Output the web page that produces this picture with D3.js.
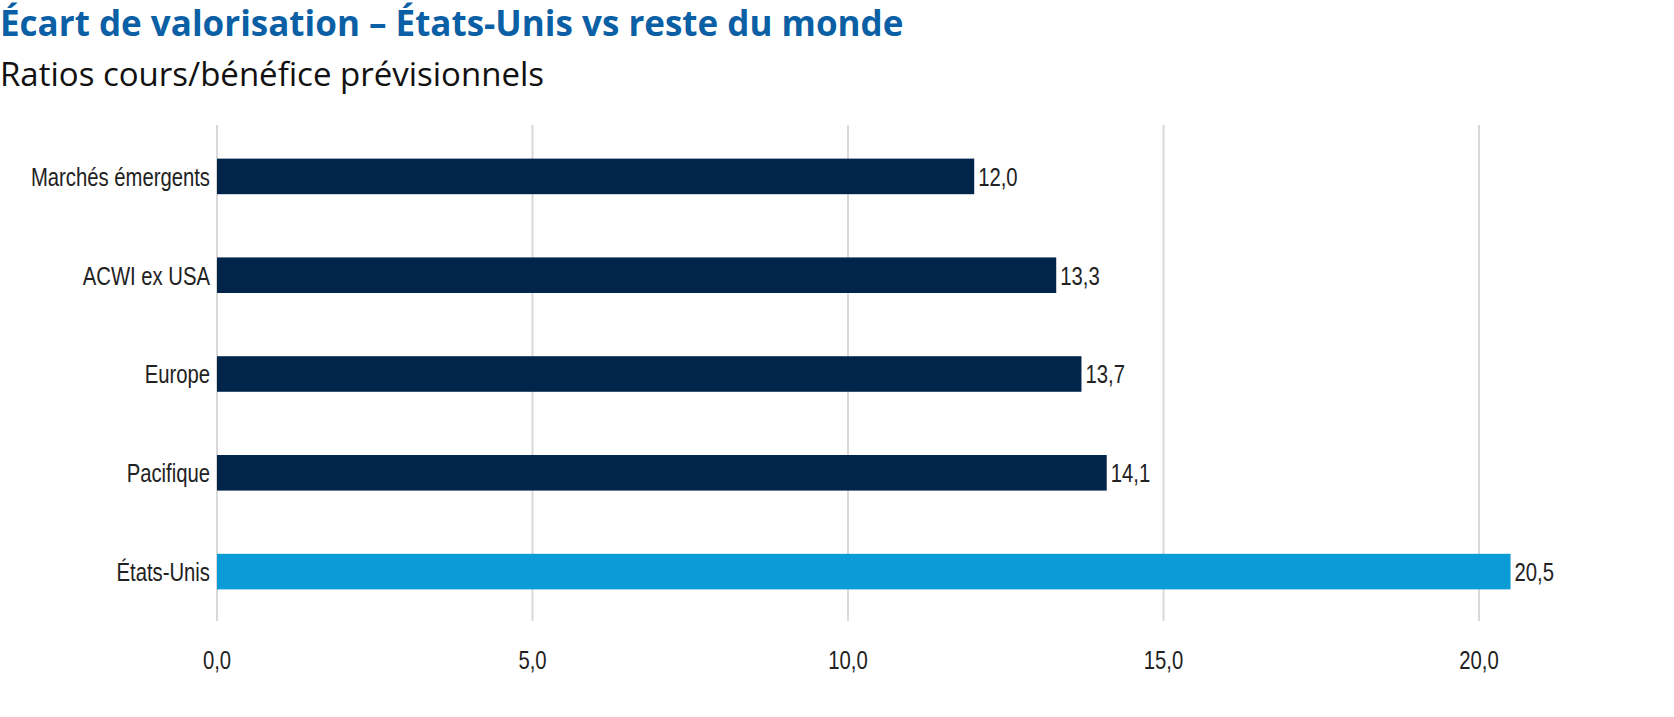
<!DOCTYPE html>
<html><head><meta charset="utf-8">
<script src="https://cdn.jsdelivr.net/npm/d3@7"></script>
<style>body{margin:0;background:#fff}</style>
</head><body>
<svg id="chart" width="1674" height="717"></svg>
<script>
var categories = ["Marchés émergents", "ACWI ex USA", "Europe", "Pacifique", "États-Unis"];
var values = [12.0, 13.3, 13.7, 14.1, 20.5];
var barColors = ["#00244a", "#00244a", "#00244a", "#00244a", "#0b9cd8"];
var ticks = [0, 5, 10, 15, 20];

var svg = d3.select("#chart");
var narrow = "'Liberation Sans', 'Roboto', sans-serif";
var fmt = function(v) { return d3.format(".1f")(v).replace(".", ","); };

// condensed look: squeeze text horizontally
function squeezed(g, px, py, anchor, txt) {
    g.append("text")
        .attr("transform", "translate(" + px + "," + py + ") scale(0.78,1)")
        .attr("dy", "0.36em").attr("text-anchor", anchor)
        .style("font", "26px " + narrow).attr("fill", "#222")
        .text(txt);
}

svg.append("text").attr("x", 0).attr("y", 36)
    .style("font", "bold 35px 'Open Sans', sans-serif").attr("fill", "#0b5fa5")
    .text("Écart de valorisation – États-Unis vs reste du monde");
svg.append("text").attr("x", 0).attr("y", 86)
    .style("font", "33px 'Open Sans', sans-serif").attr("fill", "#111")
    .text("Ratios cours/bénéfice prévisionnels");

var x = d3.scaleLinear().domain([0, 20]).range([217, 1479]);
var y = d3.scaleBand().domain(categories).range([127, 621]).paddingInner(0.64).paddingOuter(0.32);

svg.append("g").selectAll("line").data(ticks).enter().append("line")
    .attr("x1", d => x(d)).attr("x2", d => x(d))
    .attr("y1", 125).attr("y2", 621)
    .attr("stroke", "#d9d9d9").attr("stroke-width", 2);

var tg = svg.append("g");
ticks.forEach(d => squeezed(tg, x(d), 660, "middle", fmt(d)));

svg.append("g").selectAll("rect").data(values).enter().append("rect")
    .attr("x", x(0)).attr("y", (d, i) => y(categories[i]))
    .attr("width", d => x(d) - x(0)).attr("height", y.bandwidth())
    .attr("fill", (d, i) => barColors[i]);

var vg = svg.append("g");
values.forEach((d, i) => squeezed(vg, x(d) + 4, y(categories[i]) + y.bandwidth() / 2, "start", fmt(d)));

var cg = svg.append("g");
categories.forEach(c => squeezed(cg, 210, y(c) + y.bandwidth() / 2, "end", c));
</script>
</body></html>
